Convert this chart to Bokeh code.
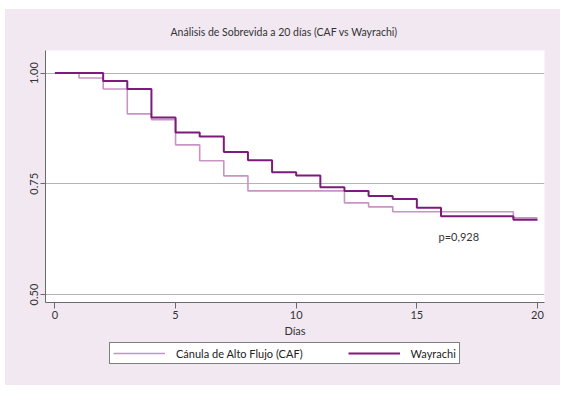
from bokeh.plotting import figure
from bokeh.layouts import column
from bokeh.models import Range1d, FixedTicker, Legend, LegendItem, Label, CustomJSTickFormatter
from bokeh.embed import file_html
from bokeh.resources import INLINE

# Data
days_caf = [0, 1, 2, 3, 4, 5, 6, 7, 8, 12, 13, 14, 19, 20]
surv_caf = [1.0, 0.989, 0.964, 0.908, 0.895, 0.838, 0.802, 0.768, 0.734, 0.707, 0.698, 0.687, 0.673, 0.673]
days_way = [0, 2, 3, 4, 5, 6, 7, 8, 9, 10, 11, 12, 13, 14, 15, 16, 19, 20]
surv_way = [1.0, 0.982, 0.964, 0.900, 0.866, 0.857, 0.822, 0.803, 0.776, 0.769, 0.742, 0.734, 0.7225, 0.7155, 0.696, 0.677, 0.669, 0.669]
x_ticks = [0, 5, 10, 15, 20]
y_ticks = [0.50, 0.75, 1.00]
title_text = "Análisis de Sobrevida a 20 días (CAF vs Wayrachi)"
x_label = "Días"
legend_labels = ["Cánula de Alto Flujo (CAF)", "Wayrachi"]
p_value_text = "p=0,928"

FONT = "Lato"
BG = "#f1e8f2"
CAF_COLOR = "#c894c6"
WAY_COLOR = "#7c1b7c"
TXT = "#333333"

p = figure(frame_width=499, frame_height=252, output_backend="svg", toolbar_location=None,
           x_range=Range1d(-0.39, 20.29), y_range=Range1d(0.482, 1.051),
           min_border_left=40, min_border_right=16, min_border_top=41, min_border_bottom=40)
p.border_fill_color = BG
p.background_fill_color = "white"
p.outline_line_color = None

# title
p.title.text = title_text
p.title.align = "left"
p.title.offset = 125
p.title.text_font = FONT
p.title.text_font_size = "10.5px"
p.title.text_font_style = "normal"
p.title.text_color = TXT
p.title.standoff = 25

# axes
p.xaxis.ticker = FixedTicker(ticks=x_ticks)
p.yaxis.ticker = FixedTicker(ticks=y_ticks)
p.yaxis.formatter = CustomJSTickFormatter(code="return tick.toFixed(2);")
p.yaxis.major_label_orientation = "vertical"
for ax in (p.xaxis[0], p.yaxis[0]):
    ax.axis_line_color = "#6a6a6a"
    ax.major_tick_line_color = "#6a6a6a"
    ax.minor_tick_line_color = None
    ax.major_tick_in = 0
    ax.major_label_text_font = FONT
    ax.major_label_text_font_size = "11px"
    ax.major_label_text_color = TXT
    ax.major_label_standoff = 2
p.xaxis.major_tick_out = 6
p.yaxis.major_tick_out = 5
p.xaxis.axis_label = x_label
p.xaxis.axis_label_text_font = FONT
p.xaxis.axis_label_text_font_size = "11px"
p.xaxis.axis_label_text_font_style = "normal"
p.xaxis.axis_label_text_color = TXT
p.xaxis.axis_label_standoff = 2

p.xgrid.grid_line_color = None
p.ygrid.ticker = FixedTicker(ticks=y_ticks)
p.ygrid.grid_line_color = "#b4b4b4"
p.ygrid.grid_line_width = 1

p.step(days_caf, surv_caf, mode="after", line_color=CAF_COLOR, line_width=1.6)
p.step(days_way, surv_way, mode="after", line_color=WAY_COLOR, line_width=2)

p.add_layout(Label(x=15.9, y=0.63, text=p_value_text, text_font=FONT, text_font_size="11px",
                   text_color=TXT, text_align="left", text_baseline="middle"))

# legend strip below the chart (same lavender panel)
p2 = figure(frame_width=555, frame_height=43, output_backend="svg", toolbar_location=None,
            x_range=Range1d(100, 200), y_range=Range1d(100, 200),
            x_axis_type=None, y_axis_type=None, min_border=0)
p2.border_fill_color = BG
p2.background_fill_color = BG
p2.outline_line_color = None
p2.grid.visible = False
l_caf = p2.step(days_caf, surv_caf, mode="after", line_color=CAF_COLOR, line_width=1.6)
l_way = p2.step(days_way, surv_way, mode="after", line_color=WAY_COLOR, line_width=2)

legend = Legend(items=[LegendItem(label=legend_labels[0], renderers=[l_caf]),
                       LegendItem(label=legend_labels[1], renderers=[l_way])],
                orientation="horizontal", location=(104, 21),
                border_line_color="black", border_line_width=1,
                background_fill_color="white", background_fill_alpha=1,
                label_text_font=FONT, label_text_font_size="11px", label_text_color="#222222",
                glyph_width=52, glyph_height=14, label_height=14,
                label_standoff=11, spacing=45, padding=3, margin=0)
p2.add_layout(legend, "center")

layout = column(p, p2, spacing=0, margin=(9, 0, 0, 5), styles={"background-color": BG})
open("out.html", "w").write(file_html(layout, INLINE))
